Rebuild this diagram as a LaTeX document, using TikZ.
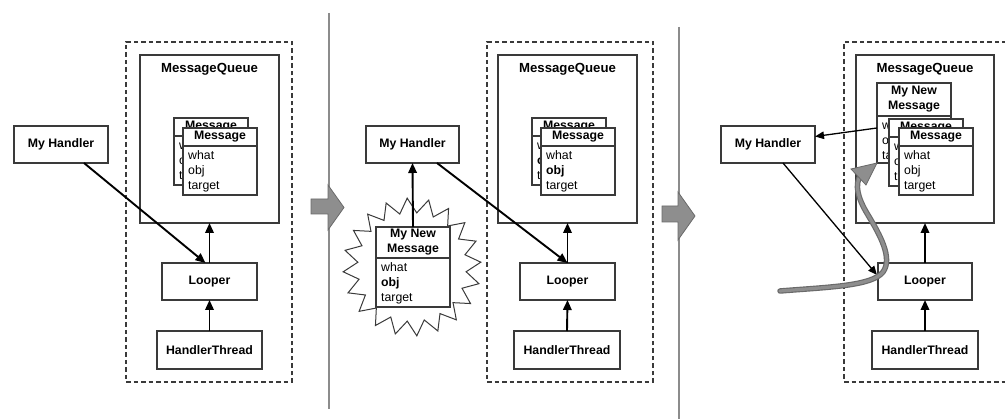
\documentclass[tikz,border=0pt]{standalone}
\usepackage{fontspec}
\setmainfont{Liberation Sans}
\usetikzlibrary{shapes.geometric,arrows.meta,calc}
\newcommand\fs{\fontsize{12.3pt}{15pt}\selectfont}
\newcommand\fsq{\fontsize{13.2pt}{15pt}\selectfont}
\definecolor{lc}{HTML}{3A3A3A}
\definecolor{gfill}{HTML}{8E8E8E}
\definecolor{gline}{HTML}{6A6A6A}
\newcommand\umlmsg[7]{%
  \node[mhead, minimum height=#5pt] (#1-h) at (#2,#3) {#4};
  \node[mbody, minimum height=#6pt] (#1-b) at (#1-h.south west) {};
  \node[mitem] (#1-w) at ($(#1-b.north west)+(5,14)$) {what};
  \node[mitem] (#1-o) at ($(#1-b.north west)+(5,28.7)$) {#7obj};
  \node[mitem] (#1-t) at ($(#1-b.north west)+(5,43.4)$) {target};
}
\begin{document}
\begin{tikzpicture}[x=1pt,y=-1pt,
  box/.style={draw=lc, line width=1.3pt, fill=white, inner sep=0, outer sep=0, font=\bfseries\fs},
  dbox/.style={draw=lc, line width=1.1pt, dash pattern=on 4.5pt off 3pt, inner sep=0, outer sep=0},
  mhead/.style={draw=lc, fill=white, line width=1.3pt, anchor=north west, minimum width=74pt, inner sep=0, outer sep=0, align=center, font=\bfseries\fs},
  mbody/.style={draw=lc, fill=white, line width=1.3pt, anchor=north west, minimum width=74pt, inner sep=0, outer sep=0},
  mitem/.style={anchor=base west, inner sep=0, font=\fs},
  title/.style={inner sep=0, font=\bfseries\fsq},
  arr/.style={-{Triangle[length=10pt,width=8.5pt]}, line width=1.9pt, black},
  tarr/.style={-{Triangle[length=9pt,width=7.5pt]}, line width=1.3pt, black},
  divider/.style={draw=gray!90, line width=1.5pt},
  blockarrow/.style={fill=gfill, draw=gline, line width=0.8pt},
]
\useasboundingbox (0,0) rectangle (1005,419);
\clip (0,0) rectangle (1005,419);

% dividers
\draw[divider] (329,13) -- (329,409);
\draw[divider] (679,27) -- (679,419);
\filldraw[blockarrow] (311,199) -- (328,199) -- (328,185) -- (344,207.5) -- (328,230) -- (328,214) -- (311,214) -- cycle;
\filldraw[blockarrow] (662,206) -- (678,206) -- (678,192) -- (695,216) -- (678,240) -- (678,222) -- (662,222) -- cycle;

% ---------- panel 1 ----------
\node[dbox, minimum width=166pt, minimum height=340pt] (d1) at (209,212) {};
\node[box, minimum width=139pt, minimum height=168pt] (mq1) at (209.5,139) {};
\node[title] (mqt1) at (209.5,69) {MessageQueue};
\umlmsg{bm1}{174}{118}{Message}{18}{49}{}
\umlmsg{fm1}{183}{128}{Message}{18}{49}{}
\node[box, minimum width=94pt, minimum height=37pt] (mh1) at (61,144.5) {My Handler};
\node[box, minimum width=95pt, minimum height=37pt] (loop1) at (209.5,281.5) {Looper};
\node[box, minimum width=105pt, minimum height=38pt] (ht1) at (209.5,350) {HandlerThread};
\draw[arr] (ht1.north) -- (loop1.south);
\draw[arr] (loop1.north) -- (mq1.south);
\draw[arr] ($(mh1.south)+(23,0)$) -- ($(loop1.north)+(-4,0)$);

% ---------- panel 2 ----------
\node[dbox, minimum width=166pt, minimum height=340pt] (d2) at (570,212) {};
\node[box, minimum width=139pt, minimum height=168pt] (mq2) at (567.5,139) {};
\node[title] (mqt2) at (567.5,69) {MessageQueue};
\umlmsg{bm2}{532}{118}{Message}{18}{49}{\bfseries}
\umlmsg{fm2}{541}{128}{Message}{18}{49}{\bfseries}
\node[box, minimum width=93pt, minimum height=37pt] (mh2) at (412.5,144.5) {My Handler};
\node[box, minimum width=95pt, minimum height=37pt] (loop2) at (567.5,281.5) {Looper};
\node[box, minimum width=106pt, minimum height=38pt] (ht2) at (567,350) {HandlerThread};
\node[star, star points=20, star point ratio=1.27, minimum size=138pt, draw=lc, line width=1pt, fill=white, inner sep=0, rotate=4] (burst) at (412,267) {};
\umlmsg{nm2}{376}{227}{My New\\Message}{31}{49}{\bfseries}
\draw[arr] (ht2.north) -- (loop2.south);
\draw[arr] (loop2.north) -- (mq2.south);
\draw[arr] (nm2-h.north) -- (mh2.south);
\draw[arr] ($(mh2.south)+(24.5,0)$) -- (loop2.north);

% ---------- panel 3 ----------
\node[dbox, minimum width=200pt, minimum height=340pt] (d3) at (944,212) {};
\node[box, minimum width=138pt, minimum height=168pt] (mq3) at (925,139) {};
\node[title] (mqt3) at (925,69) {MessageQueue};
\umlmsg{nm3}{877}{83}{My New\\Message}{33}{47}{}
\umlmsg{bm3}{889}{119}{Message}{18}{49}{}
\umlmsg{fm3}{899}{128}{Message}{18}{49}{}
\node[box, minimum width=94pt, minimum height=37pt] (mh3) at (768,144.5) {My Handler};
\node[box, minimum width=94pt, minimum height=37pt] (loop3) at (925,281.5) {Looper};
\node[box, minimum width=106pt, minimum height=38pt] (ht3) at (925,350) {HandlerThread};
\draw[arr] (ht3.north) -- (loop3.south);
\draw[arr] (loop3.north) -- (mq3.south);
\draw[tarr] ($(nm3-b.north west)+(0,12)$) -- ($(mh3.east)+(0,-8)$);
\draw[tarr] ($(mh3.south)+(15,0)$) -- ($(loop3.north west)+(-1,12)$);
% gray curved arrow
\coordinate (ctail) at (780,291);
\coordinate (chead) at (860,176);
\draw[line width=5.5pt, gline, line cap=round] (ctail) .. controls (830,287) and (872,286) .. (883,272) .. controls (893,258) and (880,235) .. (868,215) .. controls (857,197) and (855,185) .. (chead);
\draw[line width=3.2pt, gfill, line cap=round] (ctail) .. controls (830,287) and (872,286) .. (883,272) .. controls (893,258) and (880,235) .. (868,215) .. controls (857,197) and (855,185) .. (chead);
\filldraw[blockarrow] (877,163) -- (851,169) -- (866,185) -- cycle;
\end{tikzpicture}
\end{document}
